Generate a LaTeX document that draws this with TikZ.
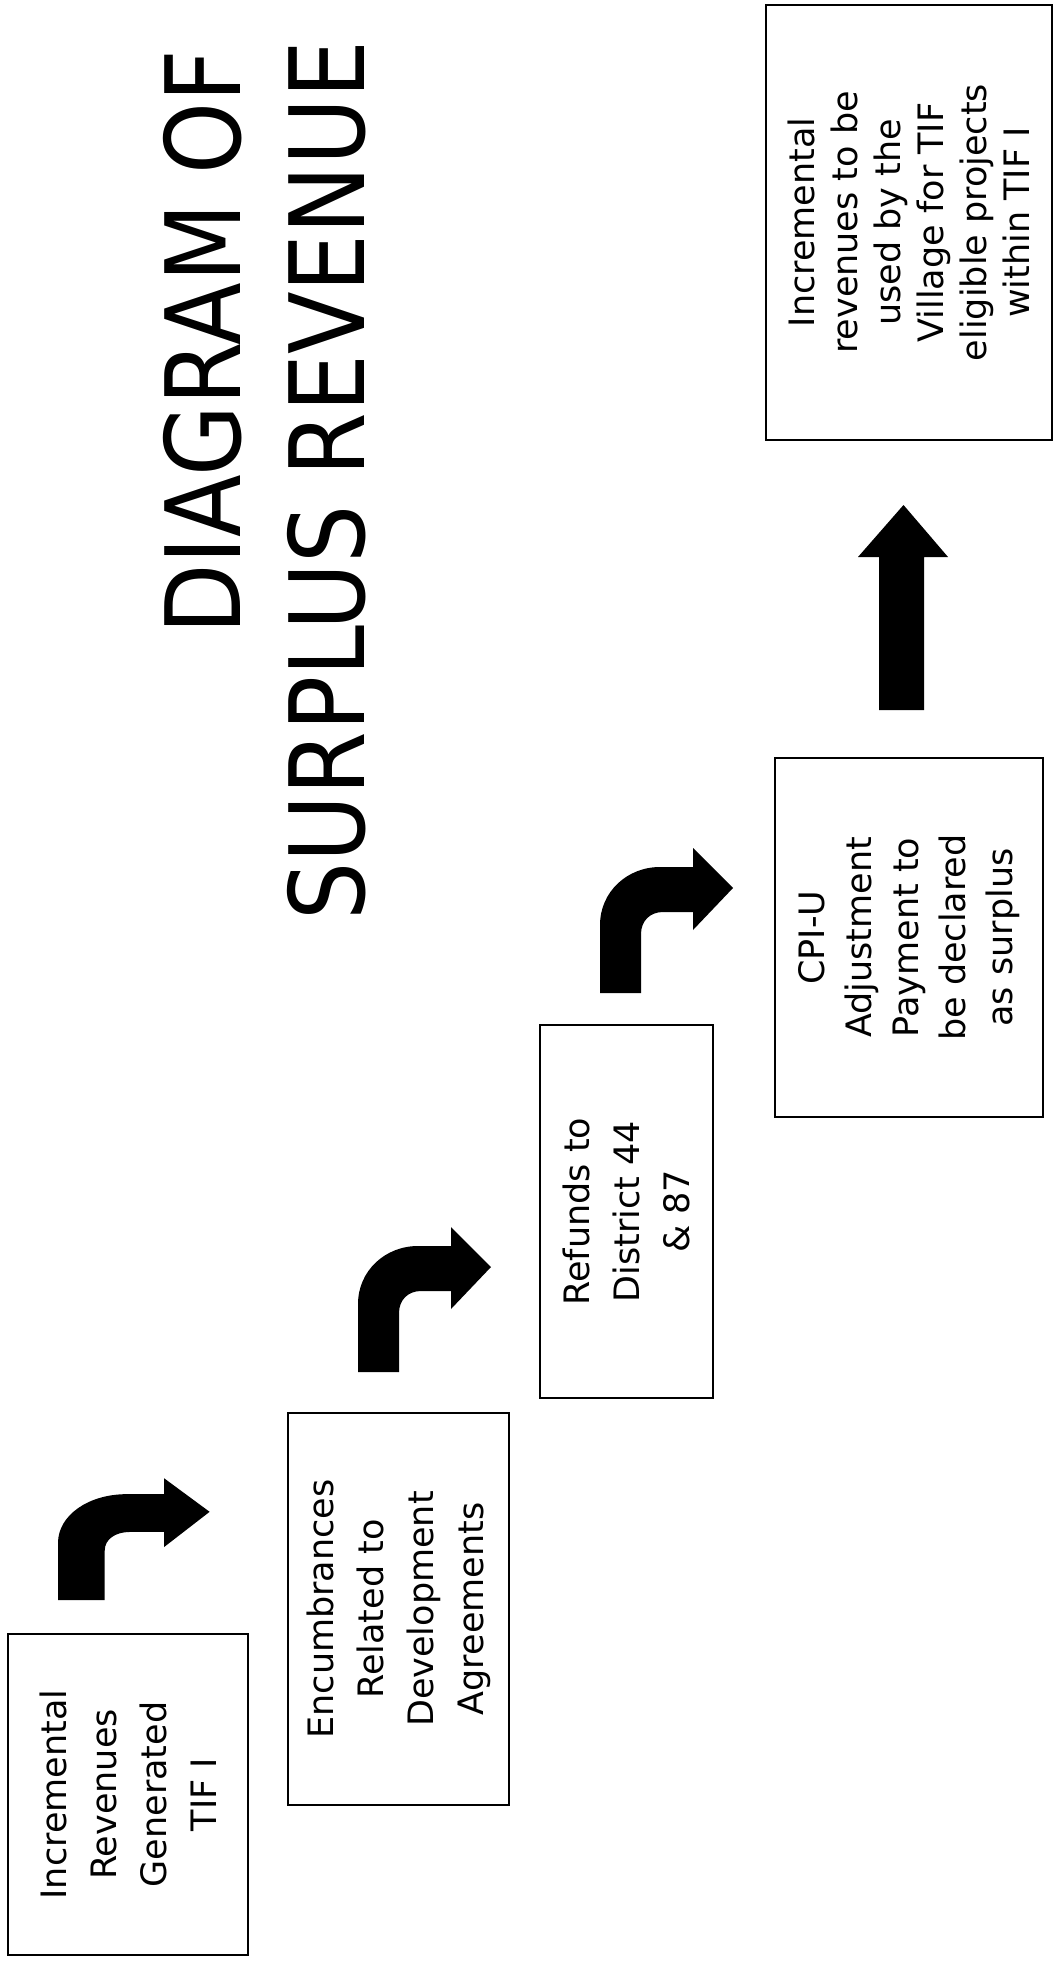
\documentclass[tikz,border=0pt]{standalone}
\usepackage{fontspec}
\setmainfont{DejaVu Sans}
\newfontfamily\titlefont{DejaVu Sans}[FakeStretch=0.88]

\tikzset{
    stagebox/.style={draw, line width=1.3pt, rotate=90, align=center, inner sep=0pt,
        font=\fontsize{17.5}{25}\selectfont},
    titletext/.style={rotate=90, inner sep=0pt, anchor=base west,
        font=\titlefont\fontsize{52}{60}\selectfont},
    bentarrow/.pic={
        \fill (0,0) -- (0,-68) .. controls (0,-101) and (27,-126) .. (60,-126)
            -- (93,-126) -- (93,-145) -- (133,-105) -- (93,-63) -- (93,-81) -- (63,-81)
            .. controls (50,-81) and (41,-72) .. (41,-59) -- (41,0) -- cycle;
    },
    uparrow/.pic={
        \fill (0,0) -- (0,-153) -- (-21,-153) -- (24.5,-205) -- (69,-153) -- (45,-153) -- (45,0) -- cycle;
    }
}

\begin{document}
\begin{tikzpicture}[x=0.5pt, y=-0.5pt]
    \useasboundingbox (0,0) rectangle (1057,1963);

    % title
    \node[titletext] (title1) at (240,635) {DIAGRAM OF};
    \node[titletext] (title2) at (364,921) {SURPLUS REVENUE};

    % stages
    \node[stagebox, minimum width=160.5pt, minimum height=120pt] (gen) at (128,1794.5)
        {Incremental\\Revenues\\Generated\\TIF I};
    \node[stagebox, minimum width=196pt, minimum height=110.5pt] (encumb) at (398.5,1609)
        {Encumbrances\\Related to\\Development\\Agreements};
    \node[stagebox, minimum width=186.5pt, minimum height=86.5pt] (refund) at (626.5,1211.5)
        {Refunds to\\District 44\\\& 87};
    \node[stagebox, minimum width=179.5pt, minimum height=134pt,
        font=\fontsize{17.5}{23.5}\selectfont] (cpiu) at (909,937.5)
        {CPI-U\\Adjustment\\Payment to\\be declared\\as surplus};
    \node[stagebox, minimum width=217.5pt, minimum height=143pt,
        font=\fontsize{17.5}{21.5}\selectfont] (village) at (909,222.5)
        {Incremental\\revenues to be\\used by the\\Village for TIF\\eligible projects\\within TIF I};

    % arrows
    \pic[xscale=1.14, yscale=0.84] at (58,1600) {bentarrow};
    \pic at (358,1372) {bentarrow};
    \pic at (600,993) {bentarrow};
    \pic at (879,710) {uparrow};
\end{tikzpicture}
\end{document}
